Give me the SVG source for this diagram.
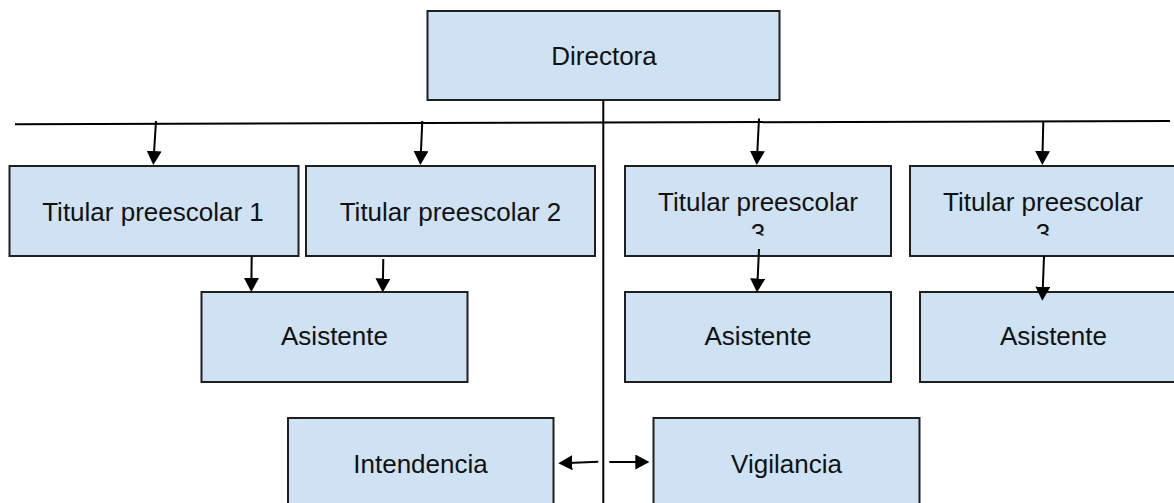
<svg xmlns="http://www.w3.org/2000/svg" width="1174" height="503" viewBox="0 0 1174 503">
<style>
  .box { fill: #cfe2f3; stroke: #1f1f1f; stroke-width: 2; }
  .lbl { font-family: "Liberation Sans", Arial, sans-serif; font-size: 26px; fill: #111; text-anchor: middle; }
  .ln { stroke: #000; stroke-width: 2; fill: none; }
  .arr { stroke: #000; stroke-width: 2; fill: none; marker-end: url(#ah); }
</style>
<defs>
  <marker id="ah" viewBox="0 0 14 15" markerWidth="14" markerHeight="15" markerUnits="userSpaceOnUse" refX="4" refY="7.5" orient="auto">
    <path d="M0,0 L14,7.5 L0,15 Z" fill="#000"/>
  </marker>
  <clipPath id="clipTP3"><rect x="625" y="166" width="266" height="69.5"/></clipPath>
  <clipPath id="clipTP4"><rect x="910" y="166" width="266" height="69.5"/></clipPath>
</defs>
<rect width="1174" height="503" fill="#fff"/>

<g id="directora">
  <rect class="box" x="427.5" y="11" width="352" height="89"/>
  <text class="lbl" x="604" y="64.5">Directora</text>
</g>
<g id="titular1">
  <rect class="box" x="9.5" y="166" width="289" height="90"/>
  <text class="lbl" x="153" y="221">Titular preescolar 1</text>
</g>
<g id="titular2">
  <rect class="box" x="306" y="166" width="289" height="90"/>
  <text class="lbl" x="450.5" y="221">Titular preescolar 2</text>
</g>
<g id="titular3">
  <rect class="box" x="625" y="166" width="266" height="90"/>
  <g clip-path="url(#clipTP3)">
    <text class="lbl" x="758" y="210.7">Titular preescolar</text>
    <text class="lbl" x="758" y="242">3</text>
  </g>
</g>
<g id="titular4">
  <rect class="box" x="910" y="166" width="266" height="90"/>
  <g clip-path="url(#clipTP4)">
    <text class="lbl" x="1043" y="210.7">Titular preescolar</text>
    <text class="lbl" x="1043" y="242">3</text>
  </g>
</g>
<g id="asistente1">
  <rect class="box" x="201.5" y="292" width="266" height="90"/>
  <text class="lbl" x="334.5" y="345">Asistente</text>
</g>
<g id="asistente2">
  <rect class="box" x="625" y="292" width="266" height="90"/>
  <text class="lbl" x="758" y="345">Asistente</text>
</g>
<g id="asistente3">
  <rect class="box" x="920" y="292" width="266" height="90"/>
  <text class="lbl" x="1053.5" y="345">Asistente</text>
</g>
<g id="intendencia">
  <rect class="box" x="288" y="418" width="265.5" height="92"/>
  <text class="lbl" x="420.5" y="472.5">Intendencia</text>
</g>
<g id="vigilancia">
  <rect class="box" x="653.5" y="418" width="266" height="92"/>
  <text class="lbl" x="786.5" y="472.5">Vigilancia</text>
</g>

<g id="connectors">
  <line class="ln" x1="603.3" y1="100" x2="603.3" y2="503"/>
  <line class="ln" x1="15" y1="124.2" x2="1170" y2="121"/>
  <line class="arr" x1="156" y1="121" x2="153.9" y2="155"/>
  <line class="arr" x1="422.3" y1="121" x2="420.8" y2="155"/>
  <line class="arr" x1="759" y1="118.5" x2="757.2" y2="155"/>
  <line class="arr" x1="1043.3" y1="121.5" x2="1042.5" y2="155"/>
  <line class="arr" x1="251.7" y1="256" x2="251.4" y2="282"/>
  <line class="arr" x1="383.3" y1="259" x2="382.9" y2="282.5"/>
  <line class="arr" x1="759" y1="249" x2="757.5" y2="282.5"/>
  <line class="arr" x1="1044" y1="256" x2="1042.7" y2="290.7"/>
  <line class="arr" x1="598.3" y1="461.7" x2="568.3" y2="462.9"/>
  <line class="arr" x1="609.3" y1="462" x2="639.3" y2="462"/>
</g>
</svg>
